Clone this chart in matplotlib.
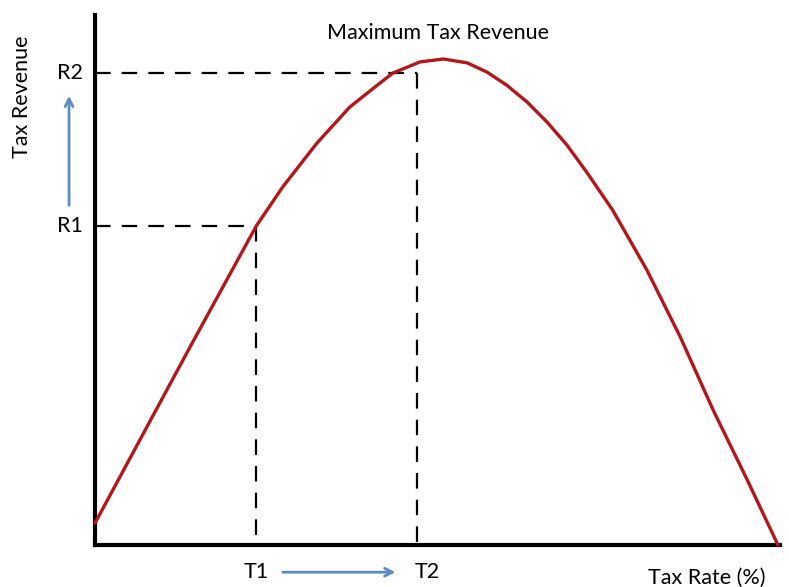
import numpy as np
import matplotlib
matplotlib.use('Agg')
import matplotlib.pyplot as plt

plt.rcParams['font.family'] = ['Lato', 'DejaVu Sans']

# Laffer curve (tax rate %, revenue as % of maximum)
tax_rate = [0, 13.9, 23.6, 27.5, 32.5, 37.3, 40.6, 43.6, 47.6,
            51.0, 54.5, 57.4, 60.3, 63.3, 66.2, 69.1, 72.0, 75.8, 80.8, 85.7,
            90.5, 95.5, 100]
revenue = [4.5, 40.7, 65.6, 73.7, 82.7, 90.1, 93.8, 97.1, 99.4,
           100, 99.2, 97.3, 94.6, 91.1, 87.0, 82.3, 76.7, 68.9, 56.6, 42.8,
           27.8, 13.4, 0]

# reference points
T1, T2 = 23.6, 47.1
R1, R2 = 65.6, 97.1

curve_color = '#B3161B'
arrow_color = '#5B8CC4'

fig = plt.figure(figsize=(7.89, 5.87), dpi=100)
ax = fig.add_axes([95 / 789, 42 / 587, 685 / 789, 530 / 587])
ax.set_xlim(0, 100.3)
ax.set_ylim(0, 109.05)

# Curve
ax.plot(tax_rate, revenue, color=curve_color, lw=2.4, clip_on=False, zorder=3,
        solid_capstyle='round', solid_joinstyle='round')

# Dashed guide lines
dash = (0, (7, 5))
ax.plot([0, T1], [R1, R1], color='black', lw=1.6, linestyle=dash, clip_on=False)
ax.plot([T1, T1], [R1, 0], color='black', lw=1.6, linestyle=dash, clip_on=False)
ax.plot([0, T2], [R2, R2], color='black', lw=1.6, linestyle=dash, clip_on=False)
ax.plot([T2, T2], [R2, 0], color='black', lw=1.6, linestyle=dash, clip_on=False)

# Axes styling
for side in ['top', 'right']:
    ax.spines[side].set_visible(False)
for side in ['left', 'bottom']:
    ax.spines[side].set_linewidth(3)
    ax.spines[side].set_color('black')
ax.set_xticks([])
ax.set_yticks([])

txt = dict(fontsize=15.5, color='black', clip_on=False)

ax.text(-3.7, R2, 'R2', ha='center', va='center', **txt)
ax.text(-3.7, R1, 'R1', ha='center', va='center', **txt)
ax.text(T1, -5.6, 'T1', ha='center', va='center', **txt)
ax.text(T2 + 1.6, -5.6, 'T2', ha='center', va='center', **txt)
ax.text(-10.7, 92.2, 'Tax Revenue', ha='center', va='center', rotation=90, **txt)
ax.text(50.2, 105.3, 'Maximum Tax Revenue', ha='center', va='center', **txt)
ax.text(89.6, -6.8, 'Tax Rate (%)', ha='center', va='center', **txt)

# Blue arrows
ax.annotate('', xy=(-3.8, 93.0), xytext=(-3.8, 69.3), xycoords='data',
            arrowprops=dict(arrowstyle='->', color=arrow_color, lw=2,
                            mutation_scale=14), annotation_clip=False)
ax.annotate('', xy=(44.4, -5.6), xytext=(27.1, -5.6), xycoords='data',
            arrowprops=dict(arrowstyle='->', color=arrow_color, lw=2,
                            mutation_scale=14), annotation_clip=False)

fig.savefig('out.png', dpi=100)
